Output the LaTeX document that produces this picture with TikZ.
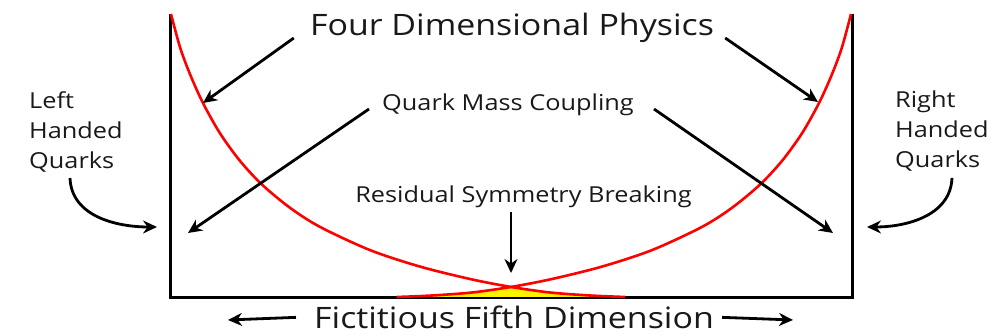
\documentclass[tikz,border=0pt]{standalone}
\usepackage{fontspec}
\setmainfont{Open Sans}[FakeStretch=1.15]
\usetikzlibrary{arrows.meta}

\tikzset{
  wall/.style={line width=3pt},
  wave/.style={red, line width=2.6pt},
  pointer/.style={line width=2.8pt, -{Stealth[length=14pt,width=13pt]}},
  bigtext/.style={inner sep=0pt, text=black!90, font=\fontsize{29.5}{30}\selectfont},
  smalltext/.style={inner sep=0pt, text=black!90, font=\fontsize{22}{30}\selectfont},
}

\begin{document}
\begin{tikzpicture}[x=1pt,y=1pt]
    \useasboundingbox (0,0) rectangle (999,336);
    \draw[wall] (170,322) -- (170,38) -- (852,38) -- (852,322);                          % Kasten
    \fill[yellow] plot[smooth] coordinates {(397,39) (432,40.5) (472,43.5) (511,49.2)}
                  -- plot[smooth] coordinates {(511,49.2) (550,43.5) (590,40.5) (625,39)} -- cycle;   % Gelb unter der Kreuzung
    \draw[wave] plot[smooth] coordinates {(171,322) (180,288.8) (190,261.8) (203,232.9) (220,202.7) (240,175.1) (262,151.4) (290,128.2)
                (320,109.1) (370,85.9) (420,69.4) (470,57) (510,49.2) (550,43.5) (590,40.5) (625,39)};     % linke Kurve
    \draw[wave] plot[smooth] coordinates {(851,322) (842,288.8) (832,261.8) (819,232.9) (802,202.7) (782,175.1) (760,151.4) (732,128.2)
                (702,109.1) (652,85.9) (602,69.4) (552,57) (512,49.2) (472,43.5) (432,40.5) (397,39)};      % rechte Kurve

    \node[bigtext, anchor=base]   (title)    at (512,300)   {Four Dimensional Physics};
    \node[smalltext, anchor=base] (coupling) at (508,225)   {Quark Mass Coupling};
    \node[smalltext, anchor=base] (residual) at (523.5,133) {Residual Symmetry Breaking};
    \node[smalltext, anchor=north west, align=left] (lefthand)  at (29,245)  {Left\\Handed\\Quarks};
    \node[smalltext, anchor=north west, align=left] (righthand) at (895,245) {Right\\Handed\\Quarks};
    \node[bigtext, anchor=base]   (fifth)    at (514,7.5)   {Fictitious Fifth Dimension};

    \coordinate (tipA) at (203,233);   % Wand links oben
    \coordinate (tipB) at (818,234);   % Wand rechts oben
    \coordinate (tipC) at (188,103);   % Wand links unten
    \coordinate (tipD) at (833,103);   % Wand rechts unten
    \coordinate (tipE) at (511,63);    % Kreuzung
    \coordinate (tipF) at (157,109);   % links aussen
    \coordinate (tipG) at (867,109);   % rechts aussen
    \coordinate (tipH) at (228,16);    % Achse links
    \coordinate (tipI) at (793,16);    % Achse rechts

    \draw[pointer] ([shift={(-16,-2)}]title.base west) -- (tipA);
    \draw[pointer] ([shift={(11,-2)}]title.base east) -- (tipB);
    \draw[pointer] ([shift={(-13,2)}]coupling.base west) -- (tipC);
    \draw[pointer] ([shift={(20,2)}]coupling.base east) -- (tipD);
    \draw[pointer] ([shift={(-12.5,-9)}]residual.base) -- (tipE);
    \draw[pointer] ([shift={(41,-6)}]lefthand.south west) to[out=-88,in=180] (tipF);
    \draw[pointer] ([shift={(57,-6)}]righthand.south west) to[out=-92,in=0] (tipG);
    \draw[pointer] ([xshift=-18]fifth.west) -- (tipH);
    \draw[pointer] ([xshift=8]fifth.east) -- (tipI);
\end{tikzpicture}
\end{document}
